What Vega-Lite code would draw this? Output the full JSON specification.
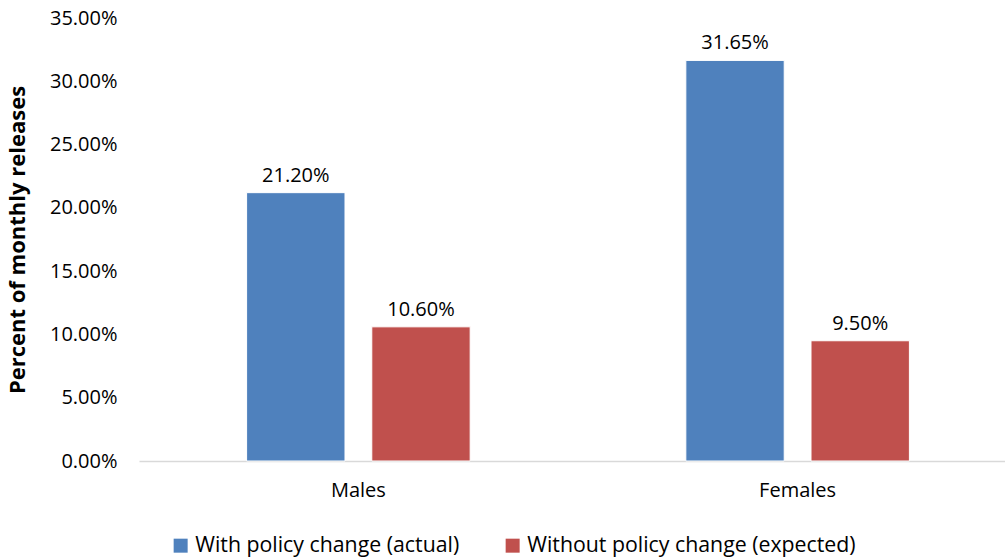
{
  "$schema": "https://vega.github.io/schema/vega-lite/v6.json",
  "width": 878,
  "height": 443,
  "autosize": {"type": "none"},
  "padding": {"left": 139, "top": 18, "right": 0, "bottom": 98},
  "background": "white",
  "config": {"font": "Open Sans", "view": {"stroke": null}},
  "data": {
    "values": [
      {"group": "Males", "scenario": "With policy change (actual)", "value": 0.212},
      {"group": "Males", "scenario": "Without policy change (expected)", "value": 0.106},
      {"group": "Females", "scenario": "With policy change (actual)", "value": 0.3165},
      {"group": "Females", "scenario": "Without policy change (expected)", "value": 0.095}
    ]
  },
  "encoding": {
    "x": {
      "field": "group", "type": "nominal", "sort": ["Males", "Females"],
      "scale": {"paddingInner": 0.491, "paddingOuter": 0.245},
      "axis": {"title": null, "labelAngle": 0, "labelFontSize": 20, "labelColor": "#000", "labelPadding": 19, "ticks": false, "domainColor": "#d9d9d9", "domainWidth": 1.5, "grid": false}
    },
    "xOffset": {
      "field": "scenario", "type": "nominal",
      "scale": {"paddingInner": 0.214, "paddingOuter": 0}
    },
    "y": {
      "field": "value", "type": "quantitative",
      "scale": {"domain": [0, 0.35], "nice": false},
      "axis": {"title": "Percent of monthly releases", "titleFontSize": 22, "titleFontWeight": "bold", "titleColor": "#000", "titlePadding": 20, "format": ".2%", "values": [0, 0.05, 0.1, 0.15, 0.2, 0.25, 0.3, 0.35], "labelFontSize": 20, "labelColor": "#000", "labelPadding": 22, "ticks": false, "domain": false, "grid": false}
    }
  },
  "layer": [
    {
      "mark": {"type": "bar", "stroke": "white", "strokeWidth": 1},
      "encoding": {
        "color": {
          "field": "scenario", "type": "nominal",
          "scale": {"domain": ["With policy change (actual)", "Without policy change (expected)"], "range": ["#4F81BD", "#C0504D"]},
          "legend": {"title": null, "orient": "none", "legendX": 31, "legendY": 517, "direction": "horizontal", "symbolType": "square", "symbolSize": 196, "symbolStrokeWidth": 0, "labelFontSize": 21.3, "labelColor": "#000", "labelLimit": 500, "columnPadding": 42, "labelOffset": 4}
        }
      }
    },
    {
      "mark": {"type": "text", "dy": -11, "baseline": "alphabetic", "fontSize": 20, "color": "#000"},
      "encoding": {"text": {"field": "value", "type": "quantitative", "format": ".2%"}}
    }
  ]
}
